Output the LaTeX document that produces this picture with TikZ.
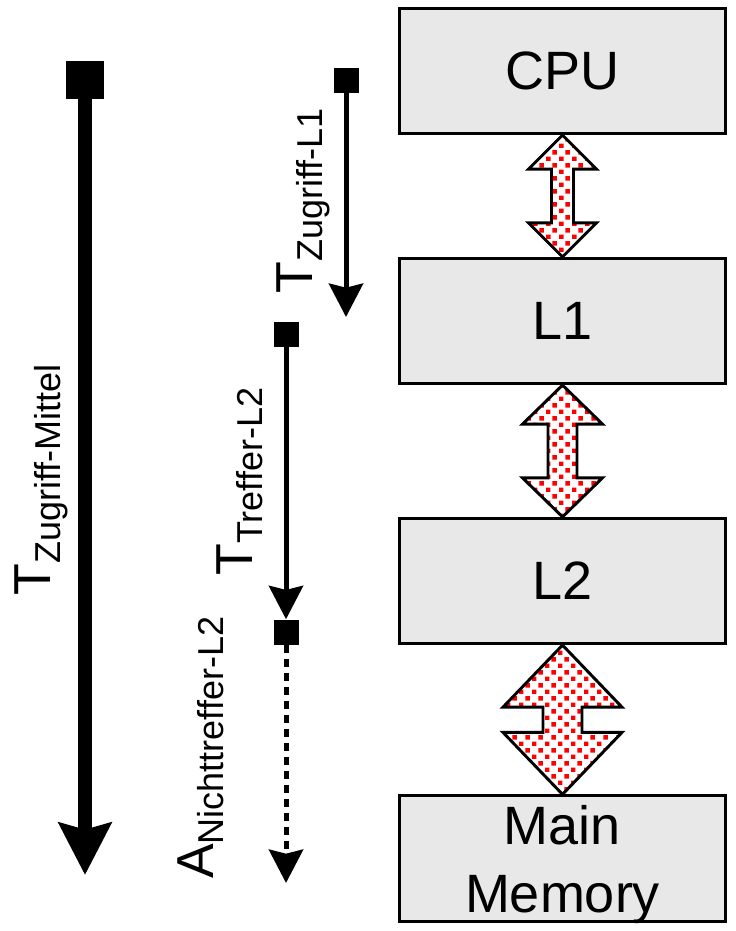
\documentclass[tikz,border=0pt]{standalone}
\usepackage{fontspec}
\setmainfont{Liberation Sans}
\usetikzlibrary{arrows.meta,calc,patterns.meta}

\definecolor{boxgray}{RGB}{232,232,232}

% red dot fill of the double arrows
\tikzdeclarepattern{
	name=reddots,
	type=uncolored,
	bounding box={(0pt,0pt) and (10pt,10pt)},
	tile size={(10pt,10pt)},
	code={
		\fill (0pt,0pt) rectangle (3.5pt,3.5pt);
		\fill (5pt,5pt) rectangle (8.5pt,8.5pt);
	}
}

\newcommand\lowsub[1]{\raisebox{-7.5pt}{\fontsize{27}{27}\selectfont #1}}

\begin{document}
\begin{tikzpicture}[
		x=0.75pt, y=-0.75pt,
		every node/.style={font=\fontsize{40.5}{51}\selectfont},
		line join=miter
		]
		\tikzset{
			level/.style={draw, line width=2.2pt, fill=boxgray,
				minimum width=244.5pt, minimum height=94pt,
				inner sep=0pt, align=center},
			endsq/.style={fill=black, inner sep=0pt, minimum size=18.75pt},
			bigendsq/.style={endsq, minimum size=28.5pt},
			dblarrow/.style={draw=black, line width=2.2pt,
				pattern=reddots, pattern color=red},
			thinline/.style={line width=3.75pt,
				-{Stealth[length=25pt, width=25.5pt, inset=3pt]}},
			thickline/.style={line width=10.5pt,
				-{Stealth[length=39pt, width=39pt, inset=5pt]}},
			lbl/.style={rotate=90, anchor=base west, inner sep=0pt,
				font=\fontsize{39}{47}\selectfont}
		}
		\useasboundingbox (0,0) rectangle (735,931);
		
		% =========================
		% Memory hierarchy
		% =========================
		\node[level] (cpu)  at (562.5,71)    {CPU};
		\node[level] (lone) at (562.5,321)   {L1};
		\node[level] (ltwo) at (562.5,581)   {L2};
		\node[level, text depth=0pt] (mem) at (562.5,858.5) {Main\\Memory};
		
		% --------------------------------
		% Double arrows between levels
		% --------------------------------
		\foreach \a/\b/\hh/\hs/\hl in {
			cpu/lone/34/11/34,
			lone/ltwo/40/14.5/39,
			ltwo/mem/59.5/19.5/62
		}
		{
			\draw[dblarrow]
			(\a.south) -- ($(\a.south)+(\hh,\hl)$) -- ($(\a.south)+(\hs,\hl)$)
			-- ($(\b.north)+(\hs,-\hl)$) -- ($(\b.north)+(\hh,-\hl)$)
			-- (\b.north)
			-- ($(\b.north)+(-\hh,-\hl)$) -- ($(\b.north)+(-\hs,-\hl)$)
			-- ($(\a.south)+(-\hs,\hl)$) -- ($(\a.south)+(-\hh,\hl)$)
			-- cycle;
		}
		
		% --------------------------------
		% Mean access time
		% --------------------------------
		\node[bigendsq] (mittelstart) at (85,80) {};
		\coordinate (mittelend) at (85,875);
		\draw[thickline] (mittelstart) -- (mittelend);
		\node[lbl] (mittellbl) at (50,596) {T\lowsub{Zugriff-Mittel}};
		
		% --------------------------------
		% L1 access time
		% --------------------------------
		\node[endsq] (lonestart) at (346,80.5) {};
		\coordinate (loneend) at (346,317);
		\draw[thinline] (lonestart) -- (loneend);
		\node[lbl] (lonelbl) at (312,294) {T\lowsub{Zugriff-L1}};
		
		% --------------------------------
		% L2 hit and miss
		% --------------------------------
		\node[endsq] (hitstart) at (286,334.5) {};
		\node[endsq] (missstart) at (286,632) {};
		\coordinate (missend) at (286,883);
		\draw[thinline] (hitstart) -- (missstart);
		\draw[thinline, dash pattern=on 6pt off 4.5pt]
		(missstart) -- (missend);
		\node[lbl] (hitlbl) at (252,576) {T\lowsub{Treffer-L2}};
		\node[lbl] (misslbl) at (213,879) {A\lowsub{Nichttreffer-L2}};
		
	\end{tikzpicture}
\end{document}
